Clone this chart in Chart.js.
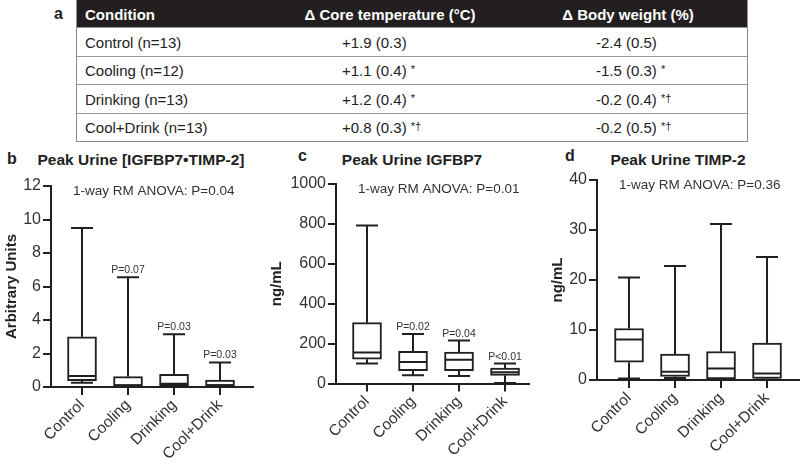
<!DOCTYPE html>
<html>
<head>
<meta charset="utf-8">
<script src="https://cdn.jsdelivr.net/npm/chart.js@4"></script>
<style>
body { margin: 0; width: 800px; height: 465px; position: relative; overflow: hidden; background: #fff;
       font-family: "Liberation Sans", Arial, sans-serif; color: #222; }
.abs { position: absolute; }
.lbl { font-weight: bold; font-size: 16px; color: #222; }
.ttl { font-weight: bold; font-size: 15.5px; white-space: nowrap; transform: translateX(-50%); color: #222; }
#tbl { left: 76px; top: 0; width: 670px; border: 1.5px solid #8a8a8a; border-top: none; }
.row { position: relative; height: 27.5px; border-top: 1px solid #9a9a9a; font-size: 15px; }
.row.head { height: 27px; background: #231f20; color: #fff; font-weight: bold; border-top: none; }
.row span { position: absolute; top: 50%; transform: translateY(-50%); white-space: nowrap; }
.row span.c { transform: translate(-50%, -50%); }
.sig { font-size: 11px; }
canvas { position: absolute; }
</style>
</head>
<body>
<div class="abs lbl" style="left:54px;top:5px">a</div>
<div class="abs" id="tbl"></div>

<div class="abs lbl" style="left:7px;top:150px">b</div>
<div class="abs ttl" style="left:141px;top:151px">Peak Urine [IGFBP7•TIMP-2]</div>
<div class="abs lbl" style="left:298px;top:147px">c</div>
<div class="abs ttl" style="left:412px;top:151px">Peak Urine IGFBP7</div>
<div class="abs lbl" style="left:565px;top:147px">d</div>
<div class="abs ttl" style="left:678px;top:151px">Peak Urine TIMP-2</div>

<canvas id="chartB" width="262" height="315" style="left:0;top:150px"></canvas>
<canvas id="chartC" width="268" height="315" style="left:262px;top:150px"></canvas>
<canvas id="chartD" width="270" height="315" style="left:530px;top:150px"></canvas>

<script>
// 表のデータ
const conditions = ['Control (n=13)', 'Cooling (n=12)', 'Drinking (n=13)', 'Cool+Drink (n=13)'];
const coreTemp = ['+1.9 (0.3)', '+1.1 (0.4)', '+1.2 (0.4)', '+0.8 (0.3)'];
const coreTempSig = ['', '*', '*', '*†'];
const bodyWeight = ['-2.4 (0.5)', '-1.5 (0.3)', '-0.2 (0.4)', '-0.2 (0.5)'];
const bodyWeightSig = ['', '*', '*†', '*†'];

// 箱ひげ図のデータ
const groups = ['Control', 'Cooling', 'Drinking', 'Cool+Drink'];

const ratioMin = [0.25, 0.0, 0.02, 0.0];
const ratioQ1 = [0.38, 0.05, 0.08, 0.06];
const ratioMedian = [0.65, 0.1, 0.2, 0.1];
const ratioQ3 = [3.0, 0.62, 0.76, 0.42];
const ratioMax = [9.5, 6.55, 3.15, 1.47];
const ratioP = ['', 'P=0.07', 'P=0.03', 'P=0.03'];

const igfbpMin = [100, 41, 37, 3];
const igfbpQ1 = [122, 64, 64, 41];
const igfbpMedian = [156, 108, 119, 57];
const igfbpQ3 = [305, 161, 158, 77];
const igfbpMax = [792, 248, 215, 100];
const igfbpP = ['', 'P=0.02', 'P=0.04', 'P<0.01'];

const timpMin = [0.3, 0.4, 0.1, 0.1];
const timpQ1 = [3.55, 0.7, 0.2, 0.3];
const timpMedian = [8.1, 1.65, 2.3, 1.3];
const timpQ3 = [10.3, 5.2, 5.7, 7.4];
const timpMax = [20.5, 22.8, 31.2, 24.6];
const timpP = ['', '', '', ''];

const LINE = '#231f20';

// 表を作る
function buildTable() {
    const tbl = document.getElementById('tbl');
    let html = '<div class="row head"><span style="left:8px">Condition</span>' +
        '<span class="c" style="left:313px">Δ Core temperature (°C)</span>' +
        '<span class="c" style="left:551px">Δ Body weight (%)</span></div>';
    for (let i = 0; i < conditions.length; i++) {
        html += '<div class="row"><span style="left:8px">' + conditions[i] + '</span>' +
            '<span style="left:265px">' + coreTemp[i] + (coreTempSig[i] ? ' <span class="sig">' + coreTempSig[i] + '</span>' : '') + '</span>' +
            '<span style="left:519px">' + bodyWeight[i] + (bodyWeightSig[i] ? ' <span class="sig">' + bodyWeightSig[i] + '</span>' : '') + '</span></div>';
    }
    tbl.innerHTML = html;
    tbl.querySelectorAll('.sig').forEach(s => { s.style.position = 'relative'; s.style.transform = 'none'; s.style.top = '-3px'; });
}

// ひげ・中央値・P値を描くプラグイン
function boxPlugin(cfg) {
    return {
        id: 'boxExtras',
        afterDatasetsDraw(chart) {
            const ctx = chart.ctx;
            const xs = chart.scales.x, ys = chart.scales.y;
            const area = chart.chartArea;
            ctx.save();
            ctx.strokeStyle = LINE;
            ctx.lineWidth = 2;
            for (let i = 0; i < groups.length; i++) {
                const x = xs.getPixelForValue(i);
                const yMin = ys.getPixelForValue(cfg.min[i]);
                const yQ1 = ys.getPixelForValue(cfg.q1[i]);
                const yMed = ys.getPixelForValue(cfg.median[i]);
                const yQ3 = ys.getPixelForValue(cfg.q3[i]);
                const yMax = ys.getPixelForValue(cfg.max[i]);
                ctx.beginPath();
                ctx.moveTo(x, yQ3); ctx.lineTo(x, yMax);
                ctx.moveTo(x - 11, yMax); ctx.lineTo(x + 11, yMax);
                ctx.moveTo(x, yQ1); ctx.lineTo(x, yMin);
                ctx.moveTo(x - 11, yMin); ctx.lineTo(x + 11, yMin);
                ctx.moveTo(x - 14, yMed); ctx.lineTo(x + 14, yMed);
                ctx.stroke();
                if (cfg.p[i]) {
                    ctx.fillStyle = '#333';
                    ctx.font = '10.5px "Liberation Sans", Arial, sans-serif';
                    ctx.textAlign = 'center';
                    ctx.textBaseline = 'alphabetic';
                    ctx.fillText(cfg.p[i], x, yMax - 4);
                }
            }
            ctx.fillStyle = '#333';
            ctx.font = '13.5px "Liberation Sans", Arial, sans-serif';
            ctx.textAlign = 'left';
            ctx.textBaseline = 'middle';
            ctx.fillText(cfg.anova, area.left + 22, area.top + 5);
            ctx.restore();
        }
    };
}

function boxChart(id, cfg) {
    const ctx = document.getElementById(id).getContext('2d');
    return new Chart(ctx, {
        type: 'bar',
        data: {
            datasets: [{
                data: groups.map((g, i) => ({ x: i, y: [cfg.q1[i], cfg.q3[i]] })),
                backgroundColor: '#fff',
                borderColor: LINE,
                borderWidth: 2,
                borderSkipped: false,
                barThickness: 29
            }]
        },
        options: {
            responsive: false,
            animation: false,
            layout: { padding: cfg.pad },
            plugins: { legend: { display: false }, tooltip: { enabled: false } },
            scales: {
                x: {
                    type: 'linear',
                    offset: false,
                    min: cfg.xMin,
                    max: cfg.xMax,
                    afterBuildTicks: s => { s.ticks = groups.map((g, i) => ({ value: i })); },
                    afterFit: s => { s.height = cfg.xH; },
                    grid: { offset: false, drawOnChartArea: false, tickLength: 8, color: LINE, lineWidth: 2 },
                    border: { display: true, color: LINE, width: 2 },
                    ticks: {
                        autoSkip: false, minRotation: 45, maxRotation: 45, padding: 1,
                        color: '#333', font: { size: 15.5 },
                        callback: v => groups[v]
                    }
                },
                y: {
                    min: 0,
                    max: cfg.yMax,
                    afterFit: s => { s.width = cfg.yW; },
                    grid: { drawOnChartArea: false, tickLength: 8, color: LINE, lineWidth: 2 },
                    border: { display: true, color: LINE, width: 2 },
                    ticks: { stepSize: cfg.step, padding: 2, color: '#333', font: { size: 16 }, callback: v => String(v) },
                    title: {
                        display: true, text: cfg.yTitle, color: '#222',
                        font: { size: 15, weight: 'bold' },
                        padding: { top: cfg.titlePad, bottom: 0 }
                    }
                }
            }
        },
        plugins: [boxPlugin(cfg)]
    });
}

document.addEventListener('DOMContentLoaded', function() {
    Chart.defaults.font.family = '"Liberation Sans", Arial, sans-serif';
    buildTable();

    boxChart('chartB', {
        min: ratioMin, q1: ratioQ1, median: ratioMedian, q3: ratioQ3, max: ratioMax, p: ratioP,
        anova: '1-way RM ANOVA: P=0.04', yTitle: 'Arbitrary Units',
        yMax: 12, step: 2, xMin: -0.674, xMax: 3.717,
        pad: { top: 36, right: 9, left: 0, bottom: 0 }, yW: 51, xH: 78, titlePad: 3
    });
    boxChart('chartC', {
        min: igfbpMin, q1: igfbpQ1, median: igfbpMedian, q3: igfbpQ3, max: igfbpMax, p: igfbpP,
        anova: '1-way RM ANOVA: P=0.01', yTitle: 'ng/mL',
        yMax: 1000, step: 200, xMin: -0.674, xMax: 3.543,
        pad: { top: 34, right: 0, left: 0, bottom: 0 }, yW: 74, xH: 81.5, titlePad: 6
    });
    boxChart('chartD', {
        min: timpMin, q1: timpQ1, median: timpMedian, q3: timpQ3, max: timpMax, p: timpP,
        anova: '1-way RM ANOVA: P=0.36', yTitle: 'ng/mL',
        yMax: 40, step: 10, xMin: -0.696, xMax: 3.717,
        pad: { top: 30, right: 0, left: 0, bottom: 0 }, yW: 67, xH: 85, titlePad: 19
    });
});
</script>
</body>
</html>
